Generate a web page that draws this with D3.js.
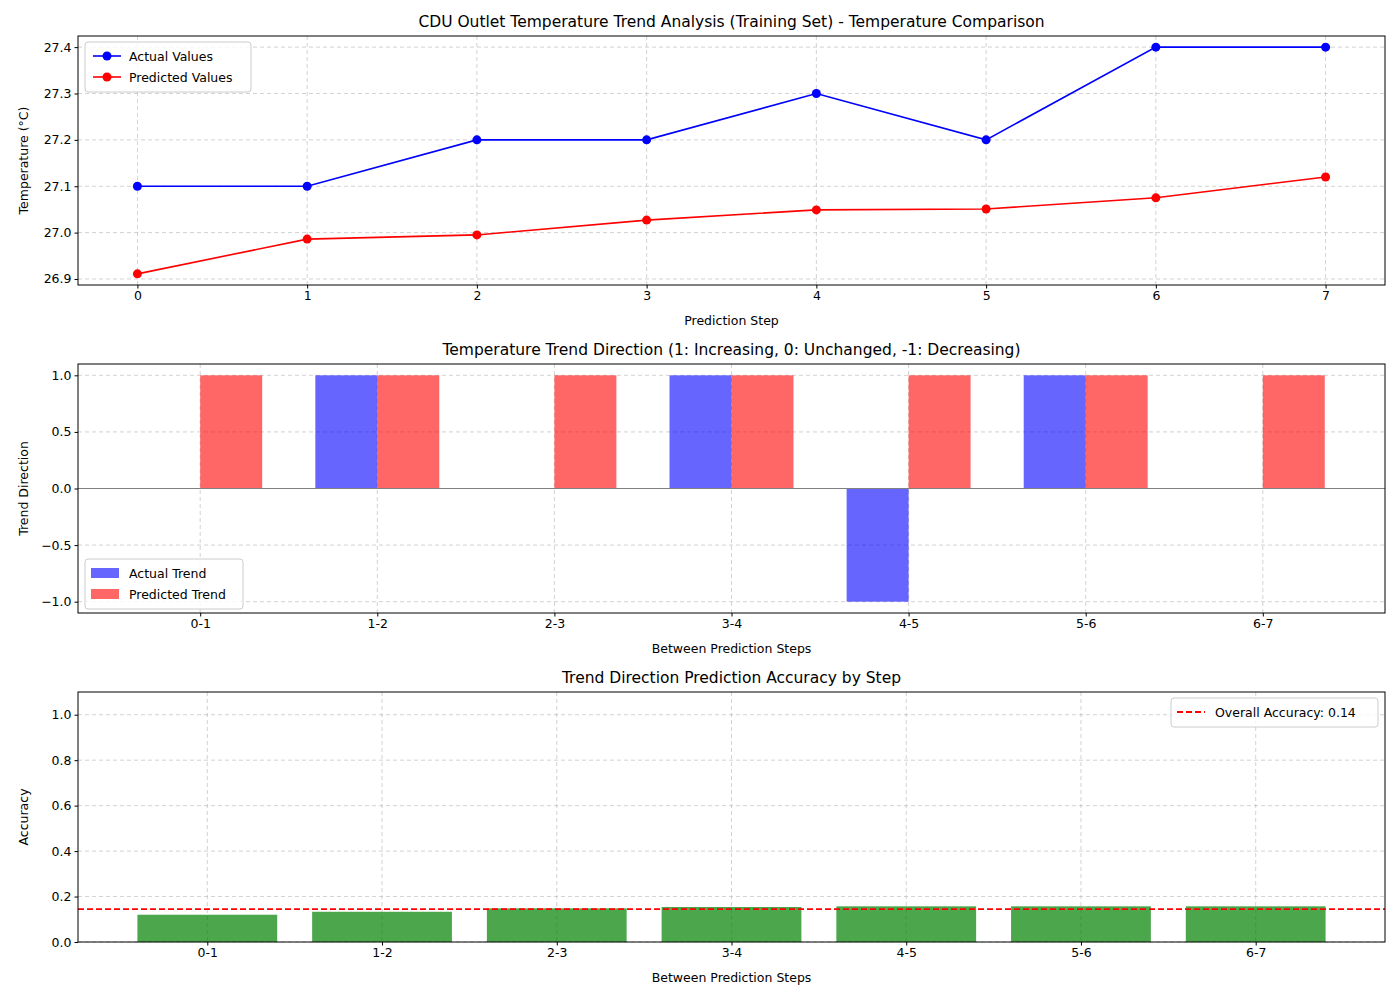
<!DOCTYPE html>
<html><head><meta charset="utf-8">
<script src="https://cdn.jsdelivr.net/npm/d3@7"></script>
<style>body{margin:0;background:#fff}text{font-family:"DejaVu Sans",sans-serif}</style>
</head><body><div id="chart"></div>
<script>
const steps = [0, 1, 2, 3, 4, 5, 6, 7];
const actualValues = [27.1, 27.1, 27.2, 27.2, 27.3, 27.2, 27.4, 27.4];
const predictedValues = [26.911, 26.986, 26.995, 27.027, 27.049, 27.051, 27.075, 27.12];
const pairLabels = ["0-1", "1-2", "2-3", "3-4", "4-5", "5-6", "6-7"];
const actualTrend = [0, 1, 0, 1, -1, 1, 0];
const predictedTrend = [1, 1, 1, 1, 1, 1, 1];
const stepAccuracy = [0.12, 0.133, 0.148, 0.154, 0.157, 0.157, 0.157];
const overallAccuracy = 0.145;

const svg = d3.select("#chart").append("svg").attr("width", 1400).attr("height", 1000);
const L = 78, R = 1385;

function grid(g, x, y, xt, yt, top, bot) {
  g.selectAll(".gx").data(xt).join("line").attr("x1", x).attr("x2", x).attr("y1", top).attr("y2", bot)
    .attr("stroke", "#b0b0b0").attr("stroke-dasharray", "4,3").attr("stroke-width", 0.8).attr("opacity", 0.7);
  g.selectAll(".gy").data(yt).join("line").attr("y1", y).attr("y2", y).attr("x1", L).attr("x2", R)
    .attr("stroke", "#b0b0b0").attr("stroke-dasharray", "4,3").attr("stroke-width", 0.8).attr("opacity", 0.7);
}
function frame(g, x, y, xt, xfmt, yt, yfmt, top, bot, title, xl, yl) {
  g.append("g").attr("transform", `translate(0,${bot})`).call(d3.axisBottom(x).tickValues(xt).tickFormat(xfmt).tickSizeOuter(0).tickSize(3.5));
  g.append("g").attr("transform", `translate(${L},0)`).call(d3.axisLeft(y).tickValues(yt).tickFormat(yfmt).tickSizeOuter(0).tickSize(3.5));
  g.selectAll(".tick text").attr("font-size", 12.5).attr("fill", "#000");
  g.selectAll(".domain").remove();
  g.append("rect").attr("x", L).attr("y", top).attr("width", R - L).attr("height", bot - top)
    .attr("fill", "none").attr("stroke", "#000").attr("stroke-width", 1);
  g.append("text").attr("x", (L + R) / 2).attr("y", top - 9).attr("text-anchor", "middle").attr("font-size", 15.5).text(title);
  g.append("text").attr("x", (L + R) / 2).attr("y", bot + 40).attr("text-anchor", "middle").attr("font-size", 12.5).text(xl);
  g.append("text").attr("transform", `translate(${L - 50},${(top + bot) / 2}) rotate(-90)`).attr("text-anchor", "middle").attr("font-size", 12.5).text(yl);
}
function legend(g, x0, y0, w, items) {
  g.append("rect").attr("x", x0).attr("y", y0).attr("width", w).attr("height", 8 + items.length * 21)
    .attr("rx", 3).attr("fill", "#fff").attr("fill-opacity", 0.8).attr("stroke", "#ccc");
  items.forEach((it, i) => {
    const cy = y0 + 14 + i * 21;
    it.draw(g, x0 + 8, cy);
    g.append("text").attr("x", x0 + 44).attr("y", cy + 4.5).attr("font-size", 12.5).text(it.label);
  });
}

// Panel 1
{
  const top = 36, bot = 285, g = svg.append("g");
  const x = d3.scaleLinear().domain([-0.35, 7.35]).range([L, R]);
  const y = d3.scaleLinear().domain([26.887, 27.424]).range([bot, top]);
  const yt = [26.9, 27.0, 27.1, 27.2, 27.3, 27.4];
  grid(g, x, y, steps, yt, top, bot);
  [[actualValues, "blue"], [predictedValues, "red"]].forEach(([vals, c]) => {
    g.append("path").datum(vals).attr("fill", "none").attr("stroke", c).attr("stroke-width", 1.6)
      .attr("d", d3.line().x((d, i) => x(steps[i])).y(d => y(d)));
    g.selectAll(null).data(vals).join("circle").attr("cx", (d, i) => x(steps[i])).attr("cy", d => y(d)).attr("r", 4.5).attr("fill", c);
  });
  frame(g, x, y, steps, d3.format("d"), yt, d3.format(".1f"), top, bot,
    "CDU Outlet Temperature Trend Analysis (Training Set) - Temperature Comparison", "Prediction Step", "Temperature (°C)");
  const mk = c => (gg, lx, cy) => {
    gg.append("line").attr("x1", lx).attr("x2", lx + 28).attr("y1", cy).attr("y2", cy).attr("stroke", c).attr("stroke-width", 1.6);
    gg.append("circle").attr("cx", lx + 14).attr("cy", cy).attr("r", 4.5).attr("fill", c);
  };
  legend(g, 85, 42, 166, [{ label: "Actual Values", draw: mk("blue") }, { label: "Predicted Values", draw: mk("red") }]);
}

// Panel 2
{
  const top = 364, bot = 613, g = svg.append("g");
  const x = d3.scaleLinear().domain([-0.69, 6.69]).range([L, R]);
  const y = d3.scaleLinear().domain([-1.1, 1.1]).range([bot, top]);
  const yt = [-1, -0.5, 0, 0.5, 1];
  const idx = d3.range(pairLabels.length);
  grid(g, x, y, idx, yt, top, bot);
  const w = x(0.35) - x(0);
  g.selectAll(null).data(actualTrend).join("rect").attr("x", (d, i) => x(i - 0.35)).attr("width", w)
    .attr("y", d => y(Math.max(0, d))).attr("height", d => Math.abs(y(d) - y(0))).attr("fill", "blue").attr("opacity", 0.6);
  g.selectAll(null).data(predictedTrend).join("rect").attr("x", (d, i) => x(i)).attr("width", w)
    .attr("y", d => y(Math.max(0, d))).attr("height", d => Math.abs(y(d) - y(0))).attr("fill", "red").attr("opacity", 0.6);
  g.append("line").attr("x1", L).attr("x2", R).attr("y1", y(0)).attr("y2", y(0)).attr("stroke", "#808080").attr("stroke-width", 1.2);
  frame(g, x, y, idx, i => pairLabels[i], yt, d3.format(".1f"), top, bot,
    "Temperature Trend Direction (1: Increasing, 0: Unchanged, -1: Decreasing)", "Between Prediction Steps", "Trend Direction");
  const mk = c => (gg, lx, cy) => gg.append("rect").attr("x", lx - 2).attr("y", cy - 5).attr("width", 28).attr("height", 10).attr("fill", c).attr("opacity", 0.6);
  legend(g, 85, 559, 158, [{ label: "Actual Trend", draw: mk("blue") }, { label: "Predicted Trend", draw: mk("red") }]);
}

// Panel 3
{
  const top = 692, bot = 942, g = svg.append("g");
  const x = d3.scaleLinear().domain([-0.74, 6.74]).range([L, R]);
  const y = d3.scaleLinear().domain([0, 1.1]).range([bot, top]);
  const yt = [0, 0.2, 0.4, 0.6, 0.8, 1.0];
  const idx = d3.range(pairLabels.length);
  grid(g, x, y, idx, yt, top, bot);
  g.selectAll(null).data(stepAccuracy).join("rect").attr("x", (d, i) => x(i - 0.4)).attr("width", x(0.8) - x(0))
    .attr("y", d => y(d)).attr("height", d => y(0) - y(d)).attr("fill", "green").attr("opacity", 0.7);
  g.append("line").attr("x1", L).attr("x2", R).attr("y1", y(overallAccuracy)).attr("y2", y(overallAccuracy))
    .attr("stroke", "red").attr("stroke-width", 1.8).attr("stroke-dasharray", "6,3");
  frame(g, x, y, idx, i => pairLabels[i], yt, d3.format(".1f"), top, bot,
    "Trend Direction Prediction Accuracy by Step", "Between Prediction Steps", "Accuracy");
  const mk = (gg, lx, cy) => gg.append("line").attr("x1", lx - 2).attr("x2", lx + 26).attr("y1", cy).attr("y2", cy)
    .attr("stroke", "red").attr("stroke-width", 1.8).attr("stroke-dasharray", "6,3");
  legend(g, 1171, 698, 207, [{ label: "Overall Accuracy: " + overallAccuracy.toFixed(2), draw: mk }]);
}
</script></body></html>
